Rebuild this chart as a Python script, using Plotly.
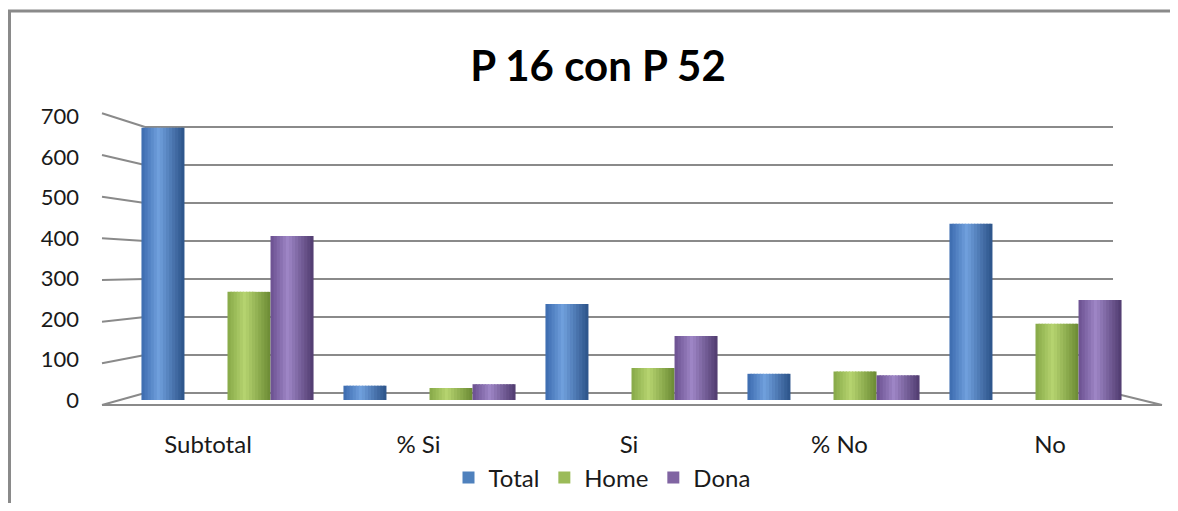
import plotly.graph_objects as go

# ---------------- data ----------------
categories = ["Subtotal", "% Si", "Si", "% No", "No"]
total = [672, 35.3, 237, 64.7, 435]
home = [267, 29.6, 79, 70.4, 188]
dona = [405, 39.0, 158, 61.0, 247]
series_names = ["Total", "Home", "Dona"]
tick_values = [0, 100, 200, 300, 400, 500, 600, 700]
title_text = "P 16 con P 52"

# ---------------- geometry helpers (layout only) ----------------
# The page body has an 8px default margin, so the figure is 16px smaller
# than the window and every target pixel is shifted by OFF.
OFF = 8
W, H = 1178 - 2 * OFF, 511 - 2 * OFF
PLOT_L, PLOT_R, PLOT_T, PLOT_B = 68, 1158, 100, 428   # in window pixels
ML, MT = PLOT_L - OFF, PLOT_T - OFF
MR, MB = W - (PLOT_R - OFF), H - (PLOT_B - OFF)
PW, PH = W - ML - MR, H - MT - MB


def px(x):
    return (x - OFF - ML) / PW


def py(y):
    return (H - MB - (y - OFF)) / PH


FONT = "Lato, 'Open Sans', sans-serif"
GRID = "#8a8a8a"

# bar value axis: base at window pixel 400, 0.405 px per unit
BASE, SCALE = 400.0, 0.405
y2_range = [(BASE - PLOT_B) / SCALE, (BASE - PLOT_T) / SCALE]

# back wall scale
BW_BOT, BW_TOP, BW_LEFT, BW_RIGHT = 393.0, 127.0, 145.0, 1113.0
gs = (BW_BOT - BW_TOP) / 700.0
pad = 5
wall_dom = [py(BW_BOT + pad * gs), py(BW_TOP - pad * gs)]

# front (label) scale for the connectors
FR_BOT, FR_STEP, FR_X = 405.0, 0.4167, 102.0

# series styling: bar width, left offset (category units), gradient stops
bar_w = 0.213
styles = {
    "Total": dict(vals=total, off=-0.426, base="#4F81BD",
                  stops=["#3B6AAE", "#70A0DD", "#2B5288"]),
    "Home": dict(vals=home, off=0.0, base="#9BBB59",
                 stops=["#86A847", "#B6D470", "#6B8A33"]),
    "Dona": dict(vals=dona, off=0.213, base="#8064A2",
                 stops=["#6A4F8F", "#9E86C6", "#4F3A6E"]),
}


def hex2rgb(h):
    h = h.lstrip("#")
    return [int(h[i:i + 2], 16) for i in (0, 2, 4)]


def lerp(c1, c2, t):
    a, b = hex2rgb(c1), hex2rgb(c2)
    return "rgb(%d,%d,%d)" % tuple(round(a[i] + (b[i] - a[i]) * t) for i in range(3))


def grad(stops, t, peak=0.4):
    if t <= peak:
        return lerp(stops[0], stops[1], t / peak)
    return lerp(stops[1], stops[2], (t - peak) / (1 - peak))


fig = go.Figure()

# back wall gridlines carrier (first subplot -> drawn under bars)
fig.add_trace(go.Scatter(x=[0, 1], y=[0, 0], xaxis="x", yaxis="y", mode="markers",
                         marker=dict(opacity=0), showlegend=False, hoverinfo="skip"))

# legend entries
for name in series_names:
    fig.add_trace(go.Bar(x=[categories[0]], y=[None], name=name, xaxis="x2", yaxis="y2",
                         marker=dict(color=styles[name]["base"], line=dict(width=0)),
                         showlegend=True, hoverinfo="skip"))

# shaded cylinders made of narrow strips
N = 14
ws = bar_w / N
for name in series_names:
    st = styles[name]
    for i in range(N):
        t = (i + 0.5) / N
        fig.add_trace(go.Bar(
            x=categories, y=st["vals"], xaxis="x2", yaxis="y2",
            width=ws * 1.4 if i < N - 1 else ws,
            offset=st["off"] + i * ws,
            marker=dict(color=grad(st["stops"], t), line=dict(width=0)),
            showlegend=False, hoverinfo="skip"))

# category labels carrier
fig.add_trace(go.Scatter(x=categories, y=[0] * len(categories), xaxis="x3", yaxis="y2",
                         mode="markers", marker=dict(opacity=0), showlegend=False,
                         hoverinfo="skip"))

# decorative 3D frame: connectors, floor, outer border
shapes = []
for v in tick_values:
    shapes.append(dict(type="line", xref="paper", yref="paper",
                       x0=px(FR_X), y0=py(FR_BOT - v * FR_STEP),
                       x1=px(BW_LEFT), y1=py(BW_BOT - v * gs),
                       line=dict(color=GRID, width=2), layer="below"))
shapes.append(dict(type="line", xref="paper", yref="paper",
                   x0=px(FR_X), y0=py(FR_BOT), x1=px(1162), y1=py(FR_BOT),
                   line=dict(color=GRID, width=2), layer="below"))
shapes.append(dict(type="line", xref="paper", yref="paper",
                   x0=px(BW_RIGHT), y0=py(BW_BOT), x1=px(1162), y1=py(FR_BOT),
                   line=dict(color=GRID, width=2), layer="below"))
shapes.append(dict(type="line", xref="paper", yref="paper",
                   x0=px(9.5), y0=py(11), x1=px(9.5), y1=py(530),
                   line=dict(color="#8a8a8a", width=3)))
shapes.append(dict(type="line", xref="paper", yref="paper",
                   x0=px(8), y0=py(11), x1=px(1200), y1=py(11),
                   line=dict(color="#8a8a8a", width=3)))

fig.update_layout(
    width=W, height=H,
    margin=dict(l=ML, r=MR, t=MT, b=MB, autoexpand=False),
    paper_bgcolor="white", plot_bgcolor="rgba(0,0,0,0)",
    barmode="overlay", hovermode=False,
    font=dict(family=FONT, color="#1a1a1a"),
    title=dict(text="<b>%s</b>" % title_text, x=(598 - OFF) / W, y=1 - (66 - OFF) / H,
               xref="container", yref="container", xanchor="center", yanchor="middle",
               font=dict(family=FONT, size=42, color="#000000")),
    xaxis=dict(domain=[px(BW_LEFT), px(BW_RIGHT)], range=[0, 1], visible=False,
               anchor="y", fixedrange=True),
    yaxis=dict(domain=wall_dom, range=[-pad, 700 + pad], anchor="x", dtick=100, tick0=0,
               showgrid=True, gridcolor=GRID, gridwidth=2, zeroline=False,
               showticklabels=False, showline=False, ticks="", fixedrange=True),
    xaxis2=dict(domain=[px(126.5), px(1136.5)], type="category", categoryarray=categories,
                range=[-0.5, len(categories) - 0.5], anchor="y2", showticklabels=False,
                showgrid=False, zeroline=False, showline=False, ticks="", fixedrange=True),
    yaxis2=dict(domain=[0, 1], range=y2_range, anchor="free", position=px(79),
                tickvals=tick_values, showgrid=False, zeroline=False, showline=False,
                ticks="", tickfont=dict(size=22, color="#1a1a1a"), fixedrange=True),
    xaxis3=dict(domain=[px(102.75), px(1155.25)], type="category", categoryarray=categories,
                range=[-0.5, len(categories) - 0.5], anchor="y2", showgrid=False,
                zeroline=False, showline=False, ticks="",
                tickfont=dict(size=24, color="#1a1a1a"), fixedrange=True),
    legend=dict(orientation="h", x=px(602), xanchor="center", y=py(478), yanchor="middle",
                font=dict(size=24, color="#1a1a1a"), bgcolor="rgba(0,0,0,0)",
                traceorder="normal", itemclick=False, itemdoubleclick=False),
    shapes=shapes,
)

fig.write_html("out.html")
